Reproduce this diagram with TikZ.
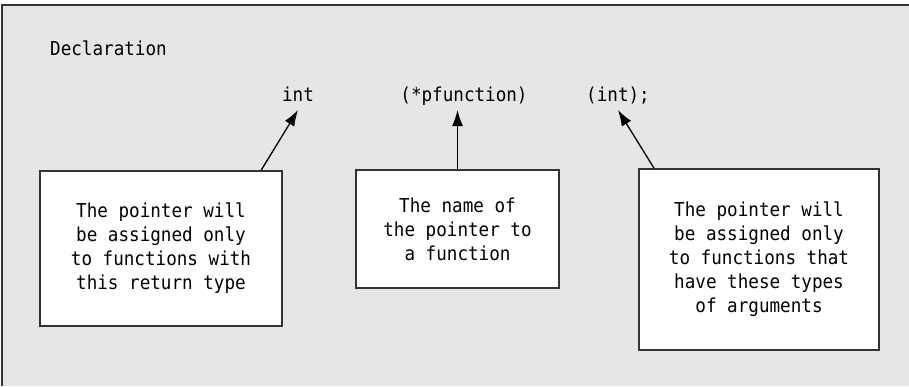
\documentclass[tikz,border=0pt]{standalone}
\usepackage{fontspec}
\setmonofont[FakeStretch=0.917]{DejaVu Sans Mono}
\usepackage{tikz}
\usetikzlibrary{arrows.meta, positioning}

\definecolor{panelgray}{HTML}{E6E6E6}
\definecolor{edgegray}{HTML}{333333}

\begin{document}
\begin{tikzpicture}[x=1pt, y=-1pt,
    every node/.style={font=\ttfamily\fontsize{19.2}{24}\selectfont},
    code/.style={inner xsep=0pt, inner ysep=9pt, outer sep=0pt, text depth=0pt, anchor=base},
    note/.style={draw=edgegray, line width=1.4pt, fill=white, align=center, inner sep=0pt},
    pointer/.style={-{Latex[length=16pt, width=11pt]}, line width=1.3pt, black}]
    \useasboundingbox (0,0) rectangle (909,386);
    \fill[white] (0,0) rectangle (909,386);
    \fill[panelgray] (2,5) rectangle (909,386);
    \draw[edgegray, line width=2pt] (2,386) -- (2,5) -- (909,5);

    \node[anchor=base west, inner sep=0pt] (decl) at (50,55) {Declaration};

    % the declaration parts
    \node[code] (tint) at (298,101) {int};
    \node[code] (tname) at (464,101) {(*pfunction)};
    \node[code] (targs) at (618,101) {(int);};

    % explanations
    \node[note, minimum width=242pt, minimum height=155pt] (boxret) at (161,248.5)
        {The pointer will\\be assigned only\\to functions with\\this return type};
    \node[note, minimum width=203pt, minimum height=118pt] (boxname) at (457.5,229)
        {The name of\\the pointer to\\a function};
    \node[note, minimum width=240pt, minimum height=181pt] (boxargs) at (759,259.5)
        {The pointer will\\be assigned only\\to functions that\\have these types\\of arguments};

    \draw[pointer] (boxret.38) -- (tint.south);
    \draw[pointer] (boxname.north) -- (boxname.north |- tname.south);
    \draw[pointer] (boxargs.139) -- (targs.south);
\end{tikzpicture}
\end{document}
